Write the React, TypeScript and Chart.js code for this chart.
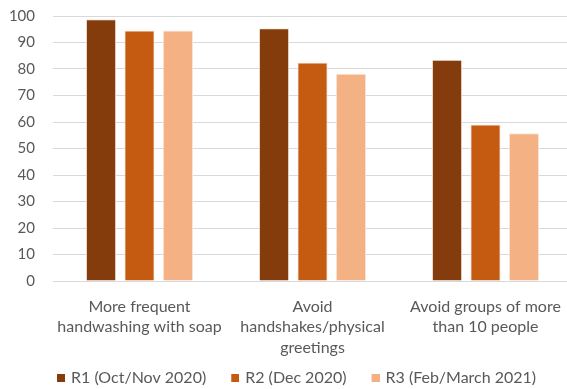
import { useEffect, useRef } from "react";
import { Chart, registerables } from "chart.js";

Chart.register(...registerables);

// Survey categories (multi-line axis labels)
const categories: string[][] = [
  ["More frequent", "handwashing with soap"],
  ["Avoid", "handshakes/physical", "greetings"],
  ["Avoid groups of more", "than 10 people"],
];

// Survey rounds
const seriesNames = ["R1 (Oct/Nov 2020)", "R2 (Dec 2020)", "R3 (Feb/March 2021)"];

// Share of respondents (%) per round
const r1Values = [98.8, 95.4, 83.5];
const r2Values = [94.5, 82.5, 59.1];
const r3Values = [94.5, 78.2, 55.8];

const seriesColors = ["#843C0C", "#C55A11", "#F4B183"];

// Y axis range
const yMin = 0;
const yMax = 100;
const yStep = 10;

const FONT = "Lato, 'Open Sans', sans-serif";
const TEXT = "#595959";
const Y_TICK_SIZE = 15;
const Y_AXIS_RIGHT = 53; // left edge of the plot area
const Y_LABEL_RIGHT = 35; // right edge of the y tick labels

// legend swatch: a small square drawn at the right end of a wider, transparent image
const SWATCH = 8;
const SWATCH_IMG_W = 23;
function makeSwatch(color: string): HTMLCanvasElement {
  const c = document.createElement("canvas");
  c.width = SWATCH_IMG_W;
  c.height = SWATCH;
  const ctx = c.getContext("2d")!;
  ctx.fillStyle = color;
  ctx.fillRect(SWATCH_IMG_W - SWATCH, 0, SWATCH, SWATCH);
  return c;
}

export default function App() {
  const canvasRef = useRef<HTMLCanvasElement | null>(null);

  useEffect(() => {
    const canvas = canvasRef.current;
    if (!canvas) return;
    const values = [r1Values, r2Values, r3Values];
    const swatches = seriesColors.map(makeSwatch);

    // widest y tick label, used to right-align the mirrored labels
    const mctx = canvas.getContext("2d")!;
    mctx.font = `${Y_TICK_SIZE}px ${FONT}`;
    const widest = mctx.measureText(String(yMax)).width;

    const chart = new Chart(canvas, {
      type: "bar",
      data: {
        labels: categories,
        datasets: seriesNames.map((name, i) => ({
          label: name,
          data: values[i],
          backgroundColor: seriesColors[i],
          borderColor: "#f7e6da",
          borderWidth: 1,
          categoryPercentage: 0.667,
          barPercentage: 0.787,
        })),
      },
      options: {
        responsive: false,
        animation: false,
        devicePixelRatio: 1,
        layout: { padding: { left: 32, right: 1, top: 16, bottom: 0 } },
        scales: {
          x: {
            grid: { display: false },
            border: { display: false },
            ticks: {
              color: TEXT,
              font: { family: FONT, size: 16, lineHeight: 1.3 },
              padding: 7,
              maxRotation: 0,
              autoSkip: false,
            },
            afterFit: (s: any) => {
              s.height = 77;
            },
          },
          y: {
            min: yMin,
            max: yMax,
            grid: { color: "#d9d9d9", lineWidth: 1, drawTicks: false },
            border: { display: false },
            ticks: {
              stepSize: yStep,
              color: TEXT,
              font: { family: FONT, size: Y_TICK_SIZE },
              mirror: true,
              crossAlign: "far",
              padding: Y_LABEL_RIGHT - Y_AXIS_RIGHT - widest,
            },
            afterFit: (s: any) => {
              s.width = 21;
            },
          },
        },
        plugins: {
          tooltip: { enabled: false },
          title: { display: false },
          legend: {
            position: "bottom",
            align: "start",
            labels: {
              usePointStyle: true,
              pointStyleWidth: 19,
              boxHeight: SWATCH,
              padding: 12,
              color: TEXT,
              font: { family: FONT, size: 16 },
              generateLabels: (c: any) =>
                Chart.defaults.plugins.legend.labels
                  .generateLabels(c)
                  .map((l: any, i: number) => ({
                    ...l,
                    lineWidth: 0,
                    pointStyle: swatches[i],
                  })),
            },
          },
        },
      },
    });
    return () => chart.destroy();
  }, []);

  return (
    <div
      style={{
        position: "fixed",
        left: 0,
        top: 0,
        width: 567,
        height: 389,
        overflow: "hidden",
        background: "#ffffff",
      }}
    >
      <canvas ref={canvasRef} width={573} height={396} />
    </div>
  );
}
